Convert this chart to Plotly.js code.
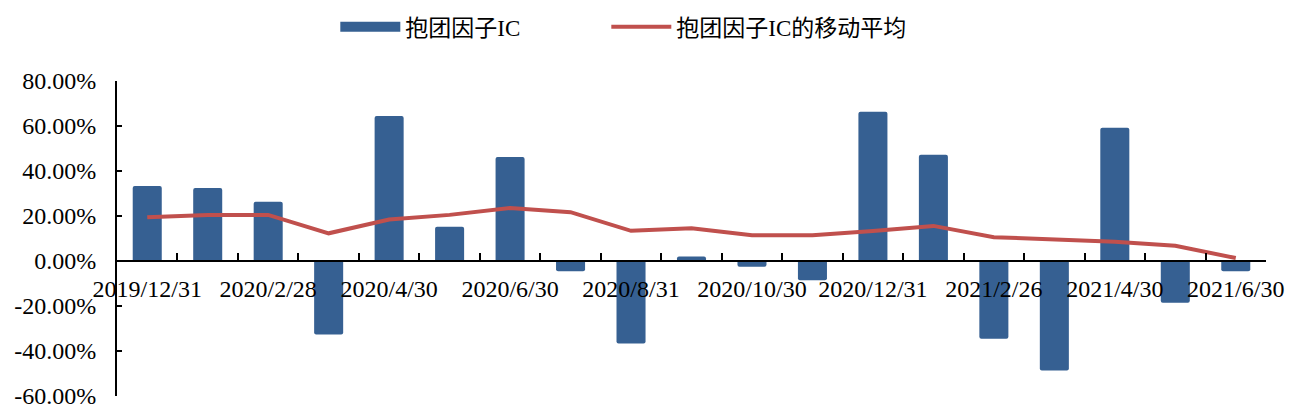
<!DOCTYPE html>
<html>
<head>
<meta charset="utf-8">
<script src="https://cdn.plot.ly/plotly-3.0.1.min.js"></script>
<style>html,body{margin:0;padding:0;background:#fff;}#chart{width:1305px;height:414px;}</style>
</head>
<body>
<div id="chart"></div>
<script>
// Month-end dates (categories)
const categories = [
  '2019/12/31','2020/1/23','2020/2/28','2020/3/31','2020/4/30','2020/5/29',
  '2020/6/30','2020/7/31','2020/8/31','2020/9/30','2020/10/30','2020/11/30',
  '2020/12/31','2021/1/29','2021/2/26','2021/3/31','2021/4/30','2021/5/31','2021/6/30'
];
// Tick labels shown (every other month)
const tickLabels = categories.map((c, i) => (i % 2 === 0 ? c : ''));
// 抱团因子IC (%)
const icValues = [33.3, 32.4, 26.3, -32.7, 64.4, 15.2, 46.2, -4.6, -36.7, 2.0,
  -2.5, -8.6, 66.3, 47.2, -34.6, -48.7, 59.2, -18.6, -4.6];
// 抱团因子IC的移动平均 (%)
const maValues = [19.4, 20.5, 20.5, 12.3, 18.4, 20.5, 23.6, 21.7, 13.4, 14.6,
  11.4, 11.4, 13.3, 15.6, 10.6, 9.6, 8.6, 6.8, 1.3];
// Y axis ticks
const yTickVals = [-60, -40, -20, 0, 20, 40, 60, 80];
const yTickText = ['-60.00%', '-40.00%', '-20.00%', '0.00%', '20.00%', '40.00%', '60.00%', '80.00%'];

const FONT = 'Liberation Serif, Times New Roman, Noto Sans CJK SC, serif';
const BLUE = '#366092';
const RED = '#C0504D';

const traces = [
  {
    type: 'bar', name: '抱团因子IC', x: categories, y: icValues,
    marker: { color: BLUE, cornerradius: 2 },
    showlegend: false, legendrank: 1
  },
  {
    // legend proxy for the bar series (wide block symbol)
    type: 'scatter', mode: 'lines', name: '抱团因子IC', x: [categories[0]], y: [null],
    line: { color: BLUE, width: 16 }, showlegend: true, legendrank: 1, hoverinfo: 'skip',
    legendwidth: 196
  },
  {
    type: 'scatter', mode: 'lines', name: '抱团因子IC的移动平均', x: categories, y: maValues,
    line: { color: RED, width: 4 }, legendrank: 2, legendwidth: 320
  }
];

const layout = {
  width: 1305, height: 414,
  margin: { l: 117, r: 39, t: 81, b: 18, autoexpand: false },
  paper_bgcolor: '#ffffff', plot_bgcolor: '#ffffff',
  font: { family: FONT, size: 24, color: '#000000' },
  bargap: 0.52,
  showlegend: true,
  legend: {
    orientation: 'h', x: 0.19, xanchor: 'left', y: 1.24, yanchor: 'top',
    font: { family: FONT, size: 23, color: '#000' },
    itemwidth: 60,
    bgcolor: 'rgba(0,0,0,0)'
  },
  xaxis: {
    type: 'category', categoryorder: 'array', categoryarray: categories,
    anchor: 'free', position: 60 / 140,
    tickmode: 'array', tickvals: categories, ticktext: tickLabels,
    tickson: 'boundaries', ticks: 'inside', ticklen: 7, tickwidth: 2, tickcolor: '#000',
    showline: true, linecolor: '#000', linewidth: 2,
    showgrid: false, zeroline: false, tickangle: 0,
    ticklabelstandoff: 6,
    tickfont: { family: FONT, size: 24, color: '#000' },
    automargin: false, fixedrange: true
  },
  yaxis: {
    range: [-60, 80], tickmode: 'array', tickvals: yTickVals, ticktext: yTickText,
    ticks: 'inside', ticklen: 5, tickwidth: 2, tickcolor: '#000',
    showline: true, linecolor: '#000', linewidth: 2,
    showgrid: false, zeroline: false,
    ticklabelstandoff: 14,
    tickfont: { family: FONT, size: 24, color: '#000' },
    automargin: false, fixedrange: true
  }
};

Plotly.newPlot('chart', traces, layout, { displayModeBar: false, staticPlot: true });
</script>
</body>
</html>
